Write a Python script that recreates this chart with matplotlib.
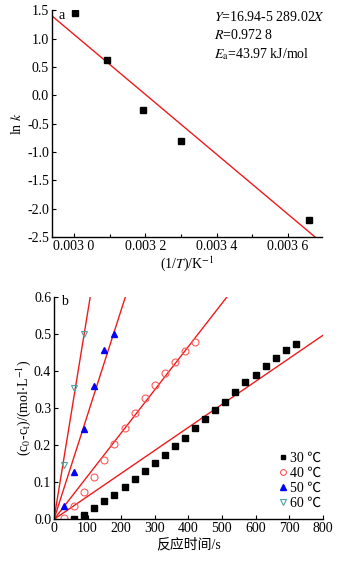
import matplotlib
matplotlib.use("Agg")
import matplotlib.pyplot as plt
from matplotlib.ticker import MultipleLocator, FuncFormatter

plt.rcParams['font.family'] = ['Liberation Serif', 'Noto Sans CJK SC', 'DejaVu Sans']
plt.rcParams['mathtext.fontset'] = 'stix'
plt.rcParams['font.size'] = 10

# panel a: Arrhenius plot
inv_T = [0.003002, 0.003093, 0.003193, 0.003299, 0.003659]
ln_k = [1.45, 0.63, -0.26, -0.81, -2.20]
fit_a, fit_b = 16.94, -5289.02

# panel b: (c0-ct) vs time
t_30 = [60, 90, 120, 150, 180, 210, 240, 270, 300, 330, 360, 390, 420, 450,
        480, 510, 540, 570, 600, 630, 660, 690, 720]
c_30 = [0.0, 0.013, 0.030, 0.049, 0.066, 0.086, 0.110, 0.129, 0.152, 0.174,
        0.198, 0.220, 0.245, 0.270, 0.294, 0.317, 0.343, 0.369, 0.390, 0.412,
        0.435, 0.456, 0.473]
t_40 = [30, 60, 90, 120, 150, 180, 210, 240, 270, 300, 330, 360, 390, 420]
c_40 = [0.005, 0.037, 0.074, 0.114, 0.160, 0.203, 0.247, 0.287, 0.327, 0.361,
        0.394, 0.425, 0.453, 0.477]
t_50 = [30, 60, 90, 120, 150, 180]
c_50 = [0.037, 0.128, 0.243, 0.360, 0.456, 0.499]
t_60 = [30, 60, 90]
c_60 = [0.146, 0.354, 0.499]
slopes = [0.000619, 0.001163, 0.002817, 0.00555]
labels = ['30 ℃', '40 ℃', '50 ℃', '60 ℃']

red = '#ee1c1c'

fig = plt.figure(figsize=(3.55, 5.67), dpi=100)

# ---- panel a ----
ax1 = fig.add_axes([0.146, 0.582, 0.761, 0.400])
xlo, xhi = 0.002938, 0.003695
ax1.plot([xlo, xhi], [fit_a + fit_b * xlo, fit_a + fit_b * xhi], color=red, lw=1)
ax1.plot(inv_T, ln_k, 's', color='black', ms=4)
ax1.set_xlim(xlo, xhi)
ax1.set_ylim(-2.5, 1.5)
ax1.xaxis.set_major_locator(MultipleLocator(0.0002))
ax1.xaxis.set_minor_locator(MultipleLocator(0.0001))
ax1.yaxis.set_major_locator(MultipleLocator(0.5))
ax1.xaxis.set_major_formatter(FuncFormatter(lambda v, p: '0.003 %d' % round((v - 0.003) * 10000)))
ax1.yaxis.set_major_formatter(FuncFormatter(lambda v, p: '%.1f' % v))
ax1.set_xlabel('(1/$T$)/K$^{-1}$', labelpad=1)
ax1.set_ylabel('ln $k$', labelpad=2)
ax1.text(0.025, 1.005, 'a', transform=ax1.transAxes, va='top', ha='left')
ax1.text(0.600, 1.0, '$Y$=16.94-5 289.02$X$\n$R$=0.972 8\n$E_{\\rm a}$=43.97 kJ/mol',
         transform=ax1.transAxes, va='top', ha='left', linespacing=1.35)

# ---- panel b ----
ax2 = fig.add_axes([0.152, 0.084, 0.757, 0.393])
xs = [0, 800]
for s in slopes:
    ax2.plot(xs, [0, s * 800], color=red, lw=1)
ax2.plot(t_30, c_30, 's', color='black', ms=4, label=labels[0])
ax2.plot(t_40, c_40, 'o', mfc='none', mec='#ff5a5a', ms=5, mew=0.8, label=labels[1])
ax2.plot(t_50, c_50, '^', color='#0000ff', ms=5, label=labels[2])
ax2.plot(t_60, c_60, 'v', mfc='none', mec='#4fa0a0', ms=5, mew=0.8, label=labels[3])
ax2.set_xlim(0, 800)
ax2.set_ylim(0, 0.6)
ax2.xaxis.set_major_locator(MultipleLocator(100))
ax2.yaxis.set_major_locator(MultipleLocator(0.1))
ax2.yaxis.set_major_formatter(FuncFormatter(lambda v, p: '%.1f' % v))
ax2.set_xlabel('反应时间/s', labelpad=2)
ax2.set_ylabel('(c$_0$-c$_{\\rm t}$)/(mol$\\cdot$L$^{-1}$)', labelpad=1)
ax2.text(0.025, 1.005, 'b', transform=ax2.transAxes, va='top', ha='left')
ax2.legend(loc='lower right', bbox_to_anchor=(1.03, 0.0), frameon=False,
           handlelength=0.6, handletextpad=0.2, labelspacing=0.15, borderpad=0.2,
           markerscale=0.85)

for ax in (ax1, ax2):
    ax.spines['top'].set_visible(False)
    ax.spines['right'].set_visible(False)
    ax.tick_params(direction='in', length=3, width=0.8, pad=2)
    ax.tick_params(which='minor', direction='in', length=2, width=0.8)
    ax.spines['left'].set_linewidth(1)
    ax.spines['bottom'].set_linewidth(1)

fig.savefig('out.png', dpi=100)
